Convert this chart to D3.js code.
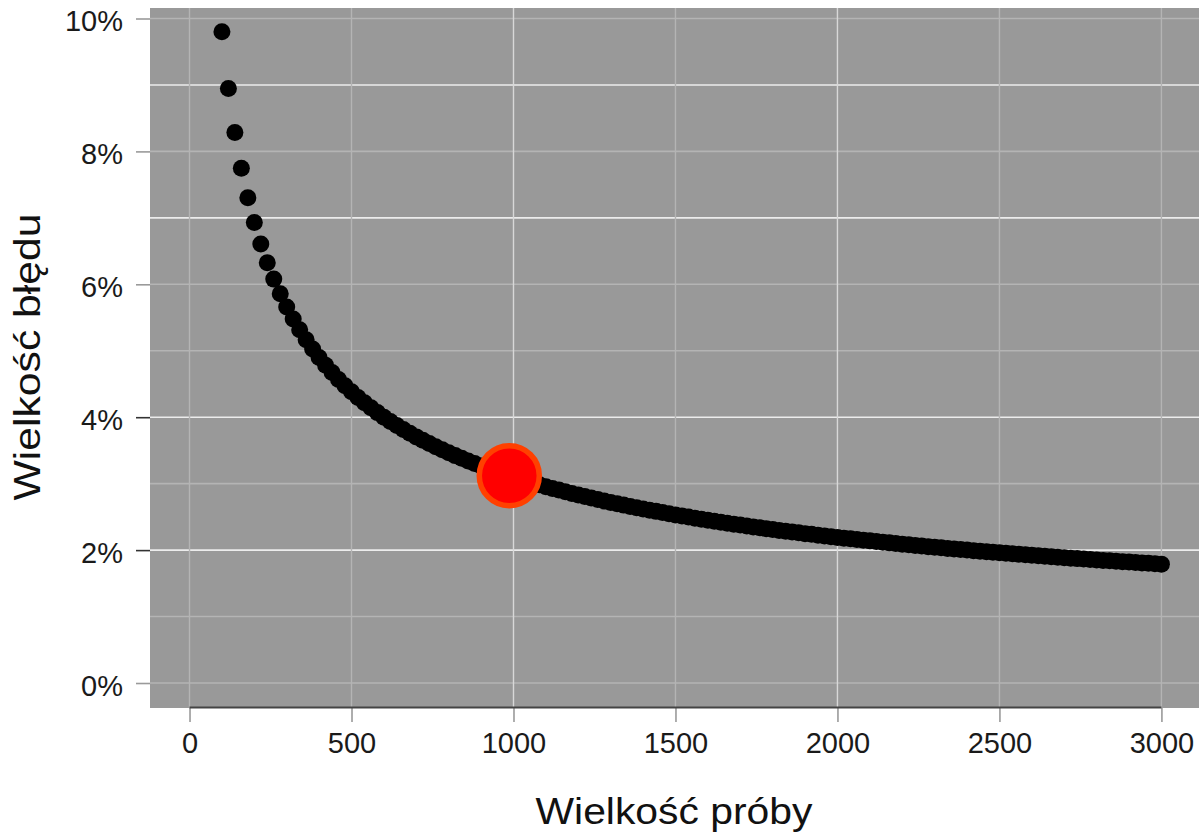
<!DOCTYPE html>
<html><head><meta charset="utf-8">
<script src="https://cdn.jsdelivr.net/npm/d3@7"></script>
<style>html,body{margin:0;padding:0;background:#fff;}svg{display:block;}</style>
</head><body>
<svg id="chart" width="1199" height="835"></svg>
<script>
const sampleSizes = [100,120,140,160,180,200,220,240,260,280,300,320,340,360,380,400,420,440,460,480,500,520,540,560,580,600,620,640,660,680,700,720,740,760,780,800,820,840,860,880,900,920,940,960,980,1000,1020,1040,1060,1080,1100,1120,1140,1160,1180,1200,1220,1240,1260,1280,1300,1320,1340,1360,1380,1400,1420,1440,1460,1480,1500,1520,1540,1560,1580,1600,1620,1640,1660,1680,1700,1720,1740,1760,1780,1800,1820,1840,1860,1880,1900,1920,1940,1960,1980,2000,2020,2040,2060,2080,2100,2120,2140,2160,2180,2200,2220,2240,2260,2280,2300,2320,2340,2360,2380,2400,2420,2440,2460,2480,2500,2520,2540,2560,2580,2600,2620,2640,2660,2680,2700,2720,2740,2760,2780,2800,2820,2840,2860,2880,2900,2920,2940,2960,2980,3000];
const errorPct = [9.800,8.946,8.283,7.748,7.304,6.930,6.607,6.326,6.078,5.857,5.658,5.478,5.315,5.165,5.027,4.900,4.782,4.672,4.569,4.473,4.383,4.298,4.217,4.141,4.069,4.001,3.936,3.874,3.815,3.758,3.704,3.652,3.603,3.555,3.509,3.465,3.422,3.381,3.342,3.304,3.267,3.231,3.196,3.163,3.131,3.099,3.069,3.039,3.010,2.982,2.955,2.928,2.903,2.877,2.853,2.829,2.806,2.783,2.761,2.739,2.718,2.697,2.677,2.657,2.638,2.619,2.601,2.583,2.565,2.547,2.530,2.514,2.497,2.481,2.465,2.450,2.435,2.420,2.405,2.391,2.377,2.363,2.349,2.336,2.323,2.310,2.297,2.285,2.272,2.260,2.248,2.237,2.225,2.214,2.202,2.191,2.180,2.170,2.159,2.149,2.139,2.128,2.118,2.109,2.099,2.089,2.080,2.071,2.061,2.052,2.043,2.035,2.026,2.017,2.009,2.000,1.992,1.984,1.976,1.968,1.960,1.952,1.945,1.937,1.929,1.922,1.915,1.907,1.900,1.893,1.886,1.879,1.872,1.865,1.859,1.852,1.845,1.839,1.832,1.826,1.820,1.814,1.807,1.801,1.795,1.789];
const highlightSize = [987];
const highlightErr = [3.12];
const xTicks = [0,500,1000,1500,2000,2500,3000];
const yTicks = [0,2,4,6,8,10];
const yGrid = [0,1,2,3,4,5,6,7,8,9,10];
const xTitle = "Wielkość próby";
const yTitle = "Wielkość błędu";

const svg = d3.select("#chart");
const P = {left:150, right:1199, top:8, bottom:708};
const x = d3.scaleLinear().domain([-122, 3116]).range([P.left, P.right]);
const y = d3.scaleLinear().domain([-0.376, 10.158]).range([P.bottom, P.top]);

// panel
svg.append("rect").attr("x",P.left).attr("y",P.top)
  .attr("width",P.right-P.left).attr("height",P.bottom-P.top).attr("fill","#999999");

const brightY = new Set([9,7,4,2]);
const brightX = new Set([1000,2000]);
const g = svg.append("g");
g.selectAll("line.hy").data(yGrid).join("line").attr("class","hy")
  .attr("x1",P.left).attr("x2",P.right)
  .attr("y1",d=>y(d)).attr("y2",d=>y(d))
  .attr("stroke",d=>brightY.has(d)?"#ececec":"#b4b4b4").attr("stroke-width",1.6);
g.selectAll("line.vx").data(xTicks).join("line").attr("class","vx")
  .attr("y1",P.top).attr("y2",P.bottom)
  .attr("x1",d=>x(d)).attr("x2",d=>x(d))
  .attr("stroke",d=>brightX.has(d)?"#d8d8d8":"#b4b4b4").attr("stroke-width",1.4);

// x axis
const xAxis = d3.axisBottom(x).tickValues(xTicks).tickSize(14).tickPadding(10).tickFormat(d3.format("d"));
const xa = svg.append("g").attr("transform",`translate(0,${P.bottom})`).call(xAxis);
xa.select(".domain").remove();
xa.selectAll(".tick line").attr("stroke","#9a9a9a").attr("stroke-width",1.6);
xa.selectAll(".tick text").attr("font-family","Liberation Sans, Arial, sans-serif")
  .attr("font-size",29).attr("fill","#1a1a1a").attr("dy","0.71em").attr("y",24);
svg.append("line").attr("x1",x(xTicks[0])).attr("x2",x(xTicks[xTicks.length-1]))
  .attr("y1",P.bottom-0.5).attr("y2",P.bottom-0.5).attr("stroke","#444").attr("stroke-width",1.8);

// y axis
const yAxis = d3.axisLeft(y).tickValues(yTicks).tickSize(14).tickPadding(13).tickFormat(d=>d+"%");
const ya = svg.append("g").attr("transform",`translate(${P.left},0)`).call(yAxis);
ya.select(".domain").remove();
const darkTicks = new Set([2,4]);
ya.selectAll(".tick line").attr("stroke",d=>darkTicks.has(d)?"#333":"#9a9a9a").attr("stroke-width",1.6);
ya.selectAll(".tick text").attr("font-family","Liberation Sans, Arial, sans-serif")
  .attr("font-size",29).attr("fill","#1a1a1a").attr("dy","0.42em");

// points
svg.append("g").selectAll("circle").data(sampleSizes.map((n,i)=>({n,e:errorPct[i]}))).join("circle")
  .attr("cx",d=>x(d.n)).attr("cy",d=>y(d.e)).attr("r",8.5).attr("fill","#000");

svg.append("g").selectAll("circle").data(highlightSize.map((n,i)=>({n,e:highlightErr[i]}))).join("circle")
  .attr("cx",d=>x(d.n)).attr("cy",d=>y(d.e)).attr("r",30).attr("fill","#ff0000")
  .attr("stroke","#ff4000").attr("stroke-width",5.5);

// titles
svg.append("text").attr("x",674).attr("y",824).attr("text-anchor","middle")
  .attr("font-family","Liberation Sans, Arial, sans-serif").attr("font-size",36).attr("fill","#111")
  .attr("textLength",277).attr("lengthAdjust","spacingAndGlyphs").text(xTitle);
svg.append("text").attr("transform","translate(40,357) rotate(-90)").attr("text-anchor","middle")
  .attr("font-family","Liberation Sans, Arial, sans-serif").attr("font-size",36).attr("fill","#111")
  .attr("textLength",287).attr("lengthAdjust","spacingAndGlyphs").text(yTitle);
</script>
</body></html>
